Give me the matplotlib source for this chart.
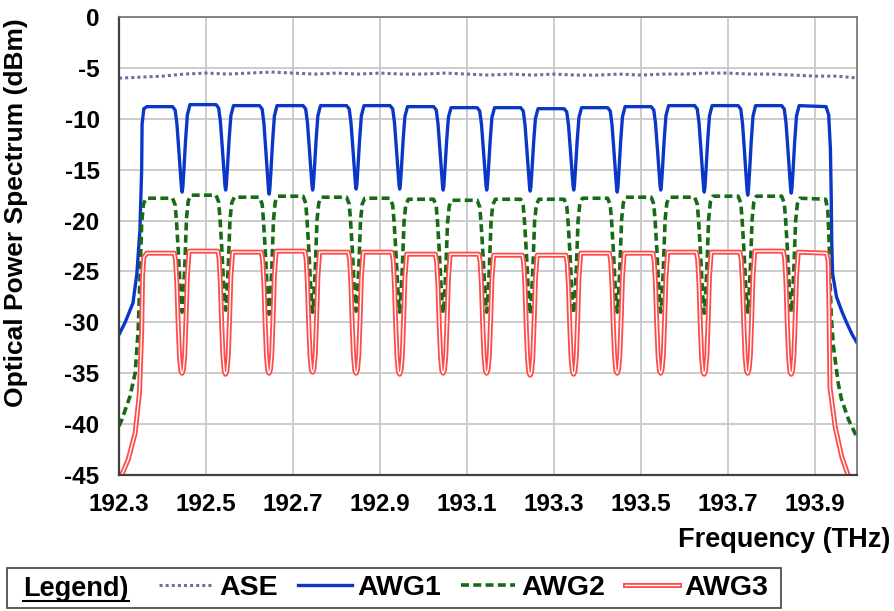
import matplotlib
matplotlib.use("Agg")
import matplotlib.pyplot as plt
import matplotlib.patheffects as pe
from matplotlib.lines import Line2D
from matplotlib.patches import Rectangle

plt.rcParams['font.family'] = ['Liberation Sans', 'DejaVu Sans']
plt.rcParams['font.weight'] = 'bold'
plt.rcParams['axes.unicode_minus'] = False

# ---- data ----
x_ticks = [192.3, 192.5, 192.7, 192.9, 193.1, 193.3, 193.5, 193.7, 193.9]
y_ticks = [0, -5, -10, -15, -20, -25, -30, -35, -40, -45]

# ASE (dotted) level
ase_freq = [192.30, 192.35, 192.40, 192.45, 192.50, 192.55, 192.60, 192.65, 192.70,
            192.75, 192.80, 192.85, 192.90, 192.95, 193.00, 193.05, 193.10, 193.15,
            193.20, 193.25, 193.30, 193.35, 193.40, 193.45, 193.50, 193.55, 193.60,
            193.65, 193.70, 193.75, 193.80, 193.85, 193.90, 193.95, 194.00]
ase_dbm = [-6.0, -5.9, -5.8, -5.6, -5.5, -5.6, -5.5, -5.4, -5.5,
           -5.6, -5.5, -5.6, -5.5, -5.6, -5.6, -5.5, -5.6, -5.7,
           -5.6, -5.7, -5.6, -5.7, -5.7, -5.6, -5.7, -5.6, -5.6,
           -5.5, -5.5, -5.6, -5.6, -5.7, -5.8, -5.8, -6.0]

# notches between the 16 channels
dip_freq = [192.445, 192.545, 192.645, 192.745, 192.845, 192.945, 193.045, 193.145,
            193.245, 193.345, 193.445, 193.545, 193.645, 193.745, 193.845]

# channel flat-top levels (16 channels)
awg1_top = [-8.8, -8.6, -8.7, -8.7, -8.7, -8.7, -8.8, -8.9, -8.9, -9.0, -8.9, -8.8,
            -8.7, -8.7, -8.7, -8.7]
awg2_top = [-17.8, -17.5, -17.7, -17.6, -17.7, -17.8, -17.9, -18.0, -17.9, -17.9,
            -17.8, -17.7, -17.7, -17.6, -17.6, -17.8]
awg3_top = [-23.2, -23.0, -23.1, -23.0, -23.1, -23.1, -23.3, -23.3, -23.4, -23.4,
            -23.2, -23.2, -23.1, -23.1, -23.0, -23.1]

# notch bottoms (15)
awg1_dip = [-17.2, -17.0, -17.4, -17.0, -16.9, -16.9, -17.0, -17.0, -17.1, -17.0,
            -17.2, -17.0, -17.2, -17.5, -17.3]
awg2_dip = [-29.0, -28.8, -29.2, -29.0, -28.9, -29.0, -29.1, -29.0, -29.2, -29.1,
            -29.0, -29.0, -29.1, -29.0, -29.0]
awg3_dip = [-35.0, -35.1, -35.0, -34.9, -35.0, -35.1, -35.0, -35.0, -35.2, -35.1,
            -35.0, -35.0, -35.1, -35.0, -35.1]

# notch profile: offset from notch (THz) and fraction of notch depth
awg1_off = [-0.022, -0.016, -0.012, -0.008, -0.004, -0.0015, 0.0, 0.0015, 0.004, 0.008, 0.012, 0.018]
awg1_frac = [0.0, 0.04, 0.2, 0.48, 0.78, 0.95, 1.0, 0.95, 0.75, 0.4, 0.12, 0.0]
awg2_off = [-0.022, -0.016, -0.013, -0.009, -0.005, -0.002, 0.0, 0.002, 0.006, 0.010, 0.014, 0.020]
awg2_frac = [0.0, 0.06, 0.2, 0.45, 0.75, 0.93, 1.0, 0.92, 0.62, 0.2, 0.05, 0.0]
awg3_off = [-0.018, -0.015, -0.012, -0.009, -0.006, -0.003, 0.0, 0.003, 0.006, 0.009, 0.012, 0.016]
awg3_frac = [0.0, 0.06, 0.26, 0.6, 0.86, 0.98, 1.0, 0.97, 0.85, 0.55, 0.2, 0.0]

# band edges (freq, dBm)
awg1_left = [(192.300, -31.2), (192.314, -30.0), (192.332, -28.1), (192.341, -25.2),
             (192.348, -20.9), (192.352, -15.0), (192.353, -10.5), (192.357, -9.0),
             (192.364, -8.8)]
awg1_right = [(193.925, -8.8), (193.931, -9.6), (193.935, -13.0), (193.937, -18.0),
              (193.938, -22.0), (193.940, -25.2), (193.949, -27.5), (193.962, -29.0),
              (193.973, -30.1), (193.985, -31.2), (193.996, -32.0)]
awg2_left = [(192.300, -40.2), (192.306, -39.6), (192.325, -37.3), (192.337, -35.0),
             (192.344, -30.8), (192.348, -25.8), (192.352, -20.3), (192.356, -18.4),
             (192.362, -17.8)]
awg2_right = [(193.924, -17.9), (193.929, -19.0), (193.932, -22.0), (193.934, -25.8),
              (193.937, -29.5), (193.942, -32.4), (193.953, -36.0), (193.960, -37.5),
              (193.977, -39.6), (193.996, -41.3)]
awg3_left = [(192.300, -46.5), (192.306, -45.0), (192.321, -43.5), (192.337, -40.9),
             (192.347, -36.9), (192.352, -30.8), (192.354, -25.5), (192.357, -23.6),
             (192.364, -23.2)]
awg3_right = [(193.926, -23.2), (193.930, -24.0), (193.932, -29.1), (193.934, -36.4),
              (193.946, -40.3), (193.961, -43.2), (193.977, -45.2), (193.990, -46.5)]


def spectrum(left, tops, dips, offs, fracs, right):
    f = [p[0] for p in left]
    y = [p[1] for p in left]
    for k, d in enumerate(dip_freq):
        for o, fr in zip(offs, fracs):
            top = tops[k] if o <= 0 else tops[k + 1]
            f.append(d + o)
            y.append(top + fr * (dips[k] - top))
    f += [p[0] for p in right]
    y += [p[1] for p in right]
    return f, y


fig = plt.figure(figsize=(8.95, 6.11), dpi=100)
ax = fig.add_axes([0.133, 0.2226, 0.8245, 0.7494])

f1, y1 = spectrum(awg1_left, awg1_top, awg1_dip, awg1_off, awg1_frac, awg1_right)
f2, y2 = spectrum(awg2_left, awg2_top, awg2_dip, awg2_off, awg2_frac, awg2_right)
f3, y3 = spectrum(awg3_left, awg3_top, awg3_dip, awg3_off, awg3_frac, awg3_right)

l_ase, = ax.plot(ase_freq, ase_dbm, color="#8064a2", lw=2.2, ls=(0, (1, 1)),
                 dash_capstyle="butt", label="ASE")
l1, = ax.plot(f1, y1, color="#0a37c8", lw=2.4, label="AWG1")
l2, = ax.plot(f2, y2, color="#176b17", lw=2.6, ls=(0, (2.2, 1.2)), label="AWG2")
l3, = ax.plot(f3, y3, color="white", lw=1.0, label="AWG3",
              path_effects=[pe.Stroke(linewidth=3.6, foreground="#ff4a4a"), pe.Normal()])

ax.set_xlim(192.3, 193.996)
ax.set_ylim(-45, 0)
ax.set_xticks(x_ticks)
ax.set_xticklabels([f"{v:.1f}" for v in x_ticks])
ax.set_yticks(y_ticks)
ax.grid(True, color="#c8c8c8", lw=1.3)
ax.set_axisbelow(True)
ax.tick_params(length=0, labelsize=17.5)
ax.tick_params(axis="y", pad=14)
ax.tick_params(axis="x", pad=13)
for lab in ax.get_xticklabels() + ax.get_yticklabels():
    lab.set_fontweight("bold")
for s in ["top", "right"]:
    ax.spines[s].set_color("#707070")
    ax.spines[s].set_linewidth(1.2)
for s in ["left", "bottom"]:
    ax.spines[s].set_color("#404040")
    ax.spines[s].set_linewidth(1.6)

ax.set_ylabel("Optical Power Spectrum (dBm)", fontsize=19, fontweight="bold")
ax.yaxis.set_label_coords(-0.123, 0.572)
ax.set_xlabel("Frequency (THz)", fontsize=19.5, fontweight="bold", ha="right", va="center")
ax.xaxis.set_label_coords(1.045, -0.142)

# legend box at the bottom
fig.patches.append(Rectangle((7 / 895, 3 / 611), 774 / 895, 40 / 611, transform=fig.transFigure,
                             fill=False, edgecolor="#404040", lw=1.2))
t = fig.text(23 / 895, 22 / 611, "Legend)", fontsize=19.5, fontweight="bold", va="center")
fig.legend(handles=[l_ase, l1, l2, l3], loc="center left", bbox_to_anchor=(145 / 895, 23 / 611),
           ncol=4, frameon=False, handlelength=1.9, handletextpad=0.2,
           columnspacing=0.7, borderpad=0.0, prop={"weight": "bold", "size": 20.5})
fig.canvas.draw()
bb = t.get_window_extent()
inv = fig.transFigure.inverted()
(x0, yb), (x1, _) = inv.transform([(bb.x0, bb.y0 + 1), (bb.x1, bb.y0 + 1)])
fig.add_artist(Line2D([x0, x1], [yb, yb], transform=fig.transFigure, color="black", lw=1.5))

fig.savefig("out.png", dpi=100)
